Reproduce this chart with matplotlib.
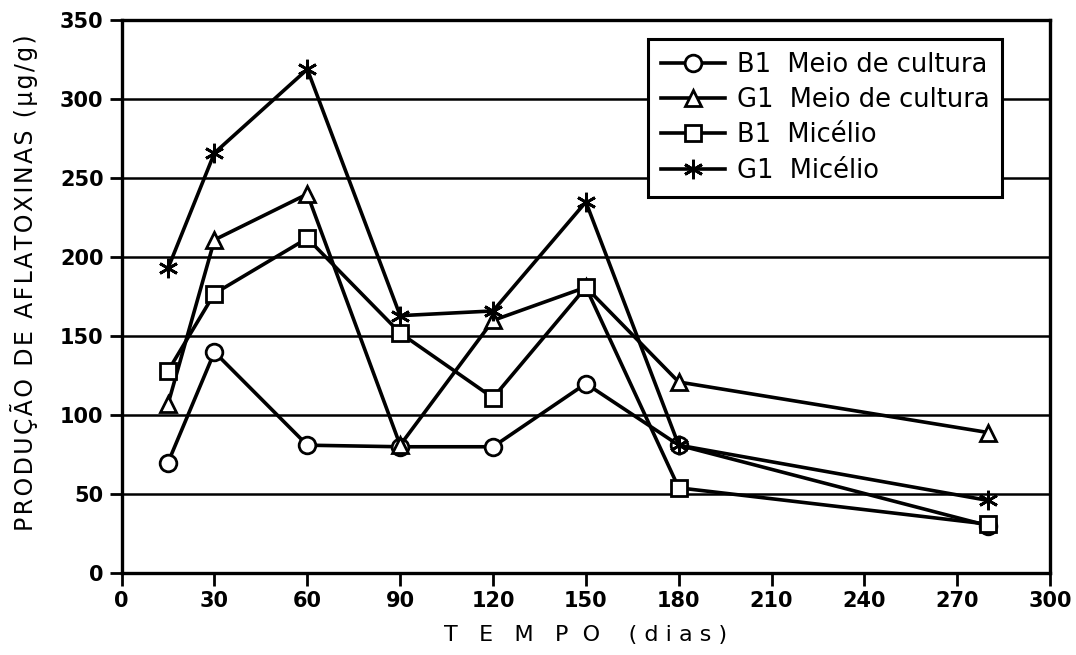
import numpy as np
import matplotlib.pyplot as plt

# dias de cultivo
dias = [15, 30, 60, 90, 120, 150, 180, 280]

# produção de aflatoxinas (ug/g)
b1_meio = [70, 140, 81, 80, 80, 120, 81, 30]
g1_meio = [107, 211, 240, 81, 160, 181, 121, 89]
b1_micelio = [128, 177, 212, 152, 111, 181, 54, 31]
g1_micelio = [193, 266, 319, 163, 166, 235, 81, 46]

labels = ['B1  Meio de cultura', 'G1  Meio de cultura', 'B1  Micélio', 'G1  Micélio']

plt.rcParams['font.family'] = ['DejaVu Sans']

fig = plt.figure(figsize=(10.76, 6.55), dpi=100)
ax = fig.add_axes([0.113, 0.125, 0.863, 0.844])

# grade horizontal
ax.grid(True, axis='y', color='black', linewidth=1.8)
ax.set_axisbelow(True)

style = dict(color='black', linewidth=2.6, markerfacecolor='white',
             markeredgecolor='black', markeredgewidth=2.0)
ax.plot(dias, b1_meio, marker='o', markersize=12, label=labels[0], **style)
ax.plot(dias, g1_meio, marker='^', markersize=12, label=labels[1], **style)
ax.plot(dias, b1_micelio, marker='s', markersize=11, label=labels[2], **style)
ax.plot(dias, g1_micelio, marker=(6, 2, 0), markersize=14, label=labels[3], **style)

ax.set_xlim(0, 300)
ax.set_ylim(0, 350)
ax.set_xticks(np.arange(0, 301, 30))
ax.set_yticks(np.arange(0, 351, 50))

for s in ax.spines.values():
    s.set_linewidth(2.4)
ax.tick_params(axis='both', direction='out', length=9, width=2,
               labelsize=15, pad=4)
for t in ax.get_xticklabels() + ax.get_yticklabels():
    t.set_fontweight('bold')

# espaçamento entre letras com hair space
ylab = '\u200a'.join('PRODUÇÃO DE AFLATOXINAS (µg/g)')
ax.set_ylabel(ylab, fontsize=17)
ax.yaxis.set_label_coords(-0.09, 0.526)
ax.set_xlabel('T   E   M   P  O    ( d i a s )', fontsize=16, labelpad=10)

leg = ax.legend(loc='upper left', bbox_to_anchor=(0.567, 0.966),
                borderaxespad=0, fontsize=18.5, frameon=True, fancybox=False,
                edgecolor='black', framealpha=1, handlelength=2.5,
                borderpad=0.5, labelspacing=0.36, handletextpad=0.45)
leg.get_frame().set_linewidth(2.2)

fig.savefig('out.png', dpi=100)
